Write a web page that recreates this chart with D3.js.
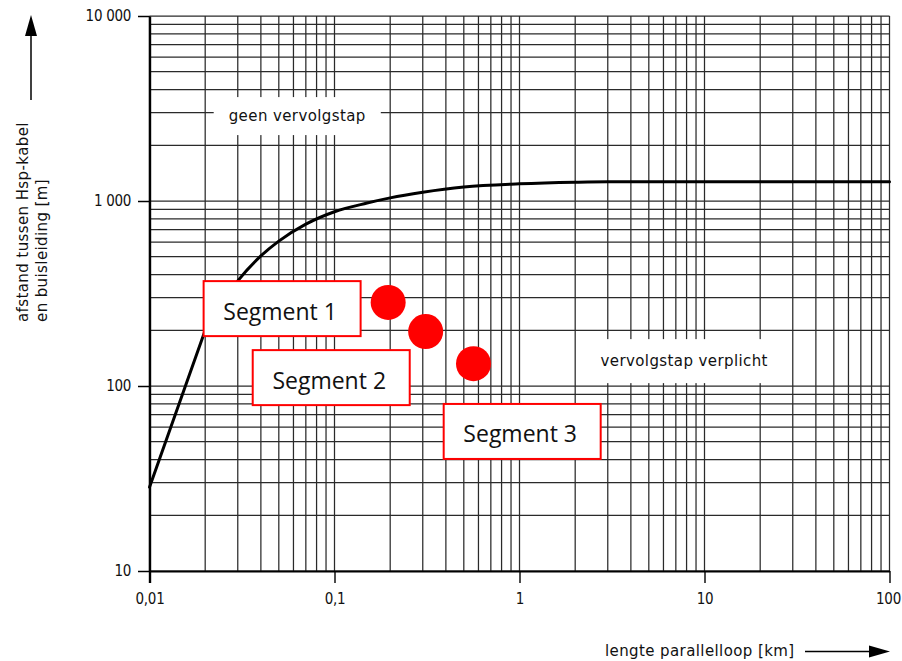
<!DOCTYPE html>
<html>
<head>
<meta charset="utf-8">
<script src="https://cdn.jsdelivr.net/npm/d3@7"></script>
<style>
  html, body { margin: 0; padding: 0; background: #fff; }
  svg { display: block; }
  .tick text { font-family: "Liberation Sans Narrow", "DejaVu Sans Condensed", "Liberation Sans", sans-serif; font-size: 15px; letter-spacing: -0.3px; fill: #111; }
  .iso { font-family: "DejaVu Sans", sans-serif; font-size: 15px; letter-spacing: 0.4px; fill: #111; }
  .seg { font-family: "Open Sans", "Noto Sans", sans-serif; font-size: 23px; fill: #111; }
</style>
</head>
<body>
<svg id="chart" width="902" height="661"></svg>
<script>
// ---- data ----
const xDomain = [0.01, 100];
const yDomain = [10, 10000];
const xTickValues = [0.01, 0.1, 1, 10, 100];
const xTickLabels = ["0,01", "0,1", "1", "10", "100"];
const yTickValues = [10, 100, 1000, 10000];
const yTickLabels = ["10", "100", "1 000", "10 000"];

// limit curve (length km -> distance m)
const curveStraightX = [0.01, 0.02];
const curveStraightY = [28.4, 200];
const curveX = [0.02, 0.03, 0.04, 0.05, 0.07, 0.1, 0.15, 0.2, 0.3, 0.5, 1, 2, 3, 100];
const curveY = [200, 370, 505, 607, 750, 875, 975, 1040, 1115, 1190, 1238, 1263, 1270, 1270];

// segments
const segNames = ["Segment 1", "Segment 2", "Segment 3"];
const segX = [0.195, 0.311, 0.564];
const segY = [283, 197, 132];
// label box centres (data units)
const segLabelX = [0.0521, 0.096, 1.034];
const segLabelY = [262, 111, 56.8];

// region labels
const regionText = ["geen vervolgstap", "vervolgstap verplicht"];
const regionX = [0.0629, 7.77];
const regionY = [2950, 138];

const xTitle = "lengte parallelloop [km]";
const yTitleLines = ["afstand tussen Hsp-kabel", "en buisleiding [m]"];

// ---- drawing ----
const svg = d3.select("#chart");
const x = d3.scaleLog().domain(xDomain).range([149.5, 889.5]);
const y = d3.scaleLog().domain(yDomain).range([571, 16]);

function gridValues(domain) {
  const vals = [];
  for (let e = Math.round(Math.log10(domain[0])); e < Math.round(Math.log10(domain[1])); e++) {
    for (let k = 1; k <= 9; k++) vals.push(k * Math.pow(10, e));
  }
  vals.push(domain[1]);
  return vals;
}

const grid = svg.append("g").attr("stroke", "#2a2a2a").attr("stroke-width", 1.25);
grid.selectAll("line.v").data(gridValues(xDomain)).join("line")
  .attr("x1", d => x(d)).attr("x2", d => x(d))
  .attr("y1", y(yDomain[0])).attr("y2", y(yDomain[1]));
grid.selectAll("line.h").data(gridValues(yDomain)).join("line")
  .attr("y1", d => y(d)).attr("y2", d => y(d))
  .attr("x1", x(xDomain[0])).attr("x2", x(xDomain[1]));

// region labels with white knock-out boxes
const regionPad = [[15, 19, 2], [24, 22, 1]]; // [padX, half-height, dy]
regionText.forEach((t, i) => {
  const g = svg.append("g");
  const rect = g.append("rect").attr("fill", "#fff");
  const txt = g.append("text").attr("class", "iso")
    .attr("x", x(regionX[i])).attr("y", y(regionY[i]) + regionPad[i][2])
    .attr("text-anchor", "middle").attr("dominant-baseline", "central").text(t);
  const bb = txt.node().getBBox();
  rect.attr("x", bb.x - regionPad[i][0]).attr("width", bb.width + 2 * regionPad[i][0])
    .attr("y", bb.y + bb.height / 2 - regionPad[i][1]).attr("height", 2 * regionPad[i][1]);
});

// curve
svg.append("path").datum(curveStraightX.map((v, i) => [v, curveStraightY[i]]))
  .attr("d", d3.line().x(d => x(d[0])).y(d => y(d[1])).curve(d3.curveLinear))
  .attr("fill", "none").attr("stroke", "#000").attr("stroke-width", 3).attr("stroke-linecap", "round");
svg.append("path").datum(curveX.map((v, i) => [v, curveY[i]]))
  .attr("d", d3.line().x(d => x(d[0])).y(d => y(d[1])).curve(d3.curveMonotoneX))
  .attr("fill", "none").attr("stroke", "#000").attr("stroke-width", 3).attr("stroke-linecap", "round");

// axes
const yAxis = d3.axisLeft(y).tickValues(yTickValues)
  .tickFormat((d, i) => yTickLabels[i]).tickSize(11.5).tickSizeOuter(0).tickPadding(7);
const gy = svg.append("g").attr("transform", `translate(${x(xDomain[0])},0)`).call(yAxis);
gy.select(".domain").attr("stroke", "#000").attr("stroke-width", 2.4);
gy.selectAll(".tick line").attr("stroke", "#000").attr("stroke-width", 1.5);

const xAxis = d3.axisBottom(x).tickValues(xTickValues)
  .tickFormat((d, i) => xTickLabels[i]).tickSize(12).tickSizeOuter(0).tickPadding(10);
const gx = svg.append("g").attr("transform", `translate(0,${y(yDomain[0])})`).call(xAxis);
gx.select(".domain").attr("stroke", "#000").attr("stroke-width", 2.2);
gx.selectAll(".tick line").attr("stroke", "#000").attr("stroke-width", (d, i) => i === 0 ? 2.4 : 1.4);
gx.selectAll(".tick text").filter((d, i) => i === xTickValues.length - 1).attr("dx", -1.5);

// axis titles and arrows
const yt = svg.append("text").attr("class", "iso")
  .attr("transform", "translate(28,322) rotate(-90)");
yTitleLines.forEach((l, i) => {
  yt.append("tspan").attr("x", 0).attr("y", i * 19).text(l);
});
svg.append("line").attr("x1", 31).attr("x2", 31).attr("y1", 100).attr("y2", 33)
  .attr("stroke", "#000").attr("stroke-width", 1.5);
svg.append("path").attr("d", "M31,15 L25,36 L37,36 Z").attr("fill", "#000");

svg.append("text").attr("class", "iso").attr("x", 605).attr("y", 656).text(xTitle);
svg.append("line").attr("x1", 805).attr("x2", 872).attr("y1", 651.5).attr("y2", 651.5)
  .attr("stroke", "#000").attr("stroke-width", 1.5);
svg.append("path").attr("d", "M890,651.5 L869,645.5 L869,657.5 Z").attr("fill", "#000");

// segment points
svg.append("g").selectAll("circle").data(segX).join("circle")
  .attr("cx", d => x(d)).attr("cy", (d, i) => y(segY[i])).attr("r", 17.5).attr("fill", "#ff0000");

// segment label boxes
const bw = 157, bh = 55;
const lab = svg.append("g").selectAll("g").data(segNames).join("g")
  .attr("transform", (d, i) => `translate(${x(segLabelX[i])},${y(segLabelY[i])})`);
lab.append("rect").attr("x", -bw / 2).attr("y", -bh / 2).attr("width", bw).attr("height", bh)
  .attr("fill", "#fff").attr("stroke", "#ff0000").attr("stroke-width", 2);
lab.append("text").attr("class", "seg").attr("text-anchor", "middle")
  .attr("dominant-baseline", "central").attr("x", -2).attr("y", 2).text(d => d);
</script>
</body>
</html>
